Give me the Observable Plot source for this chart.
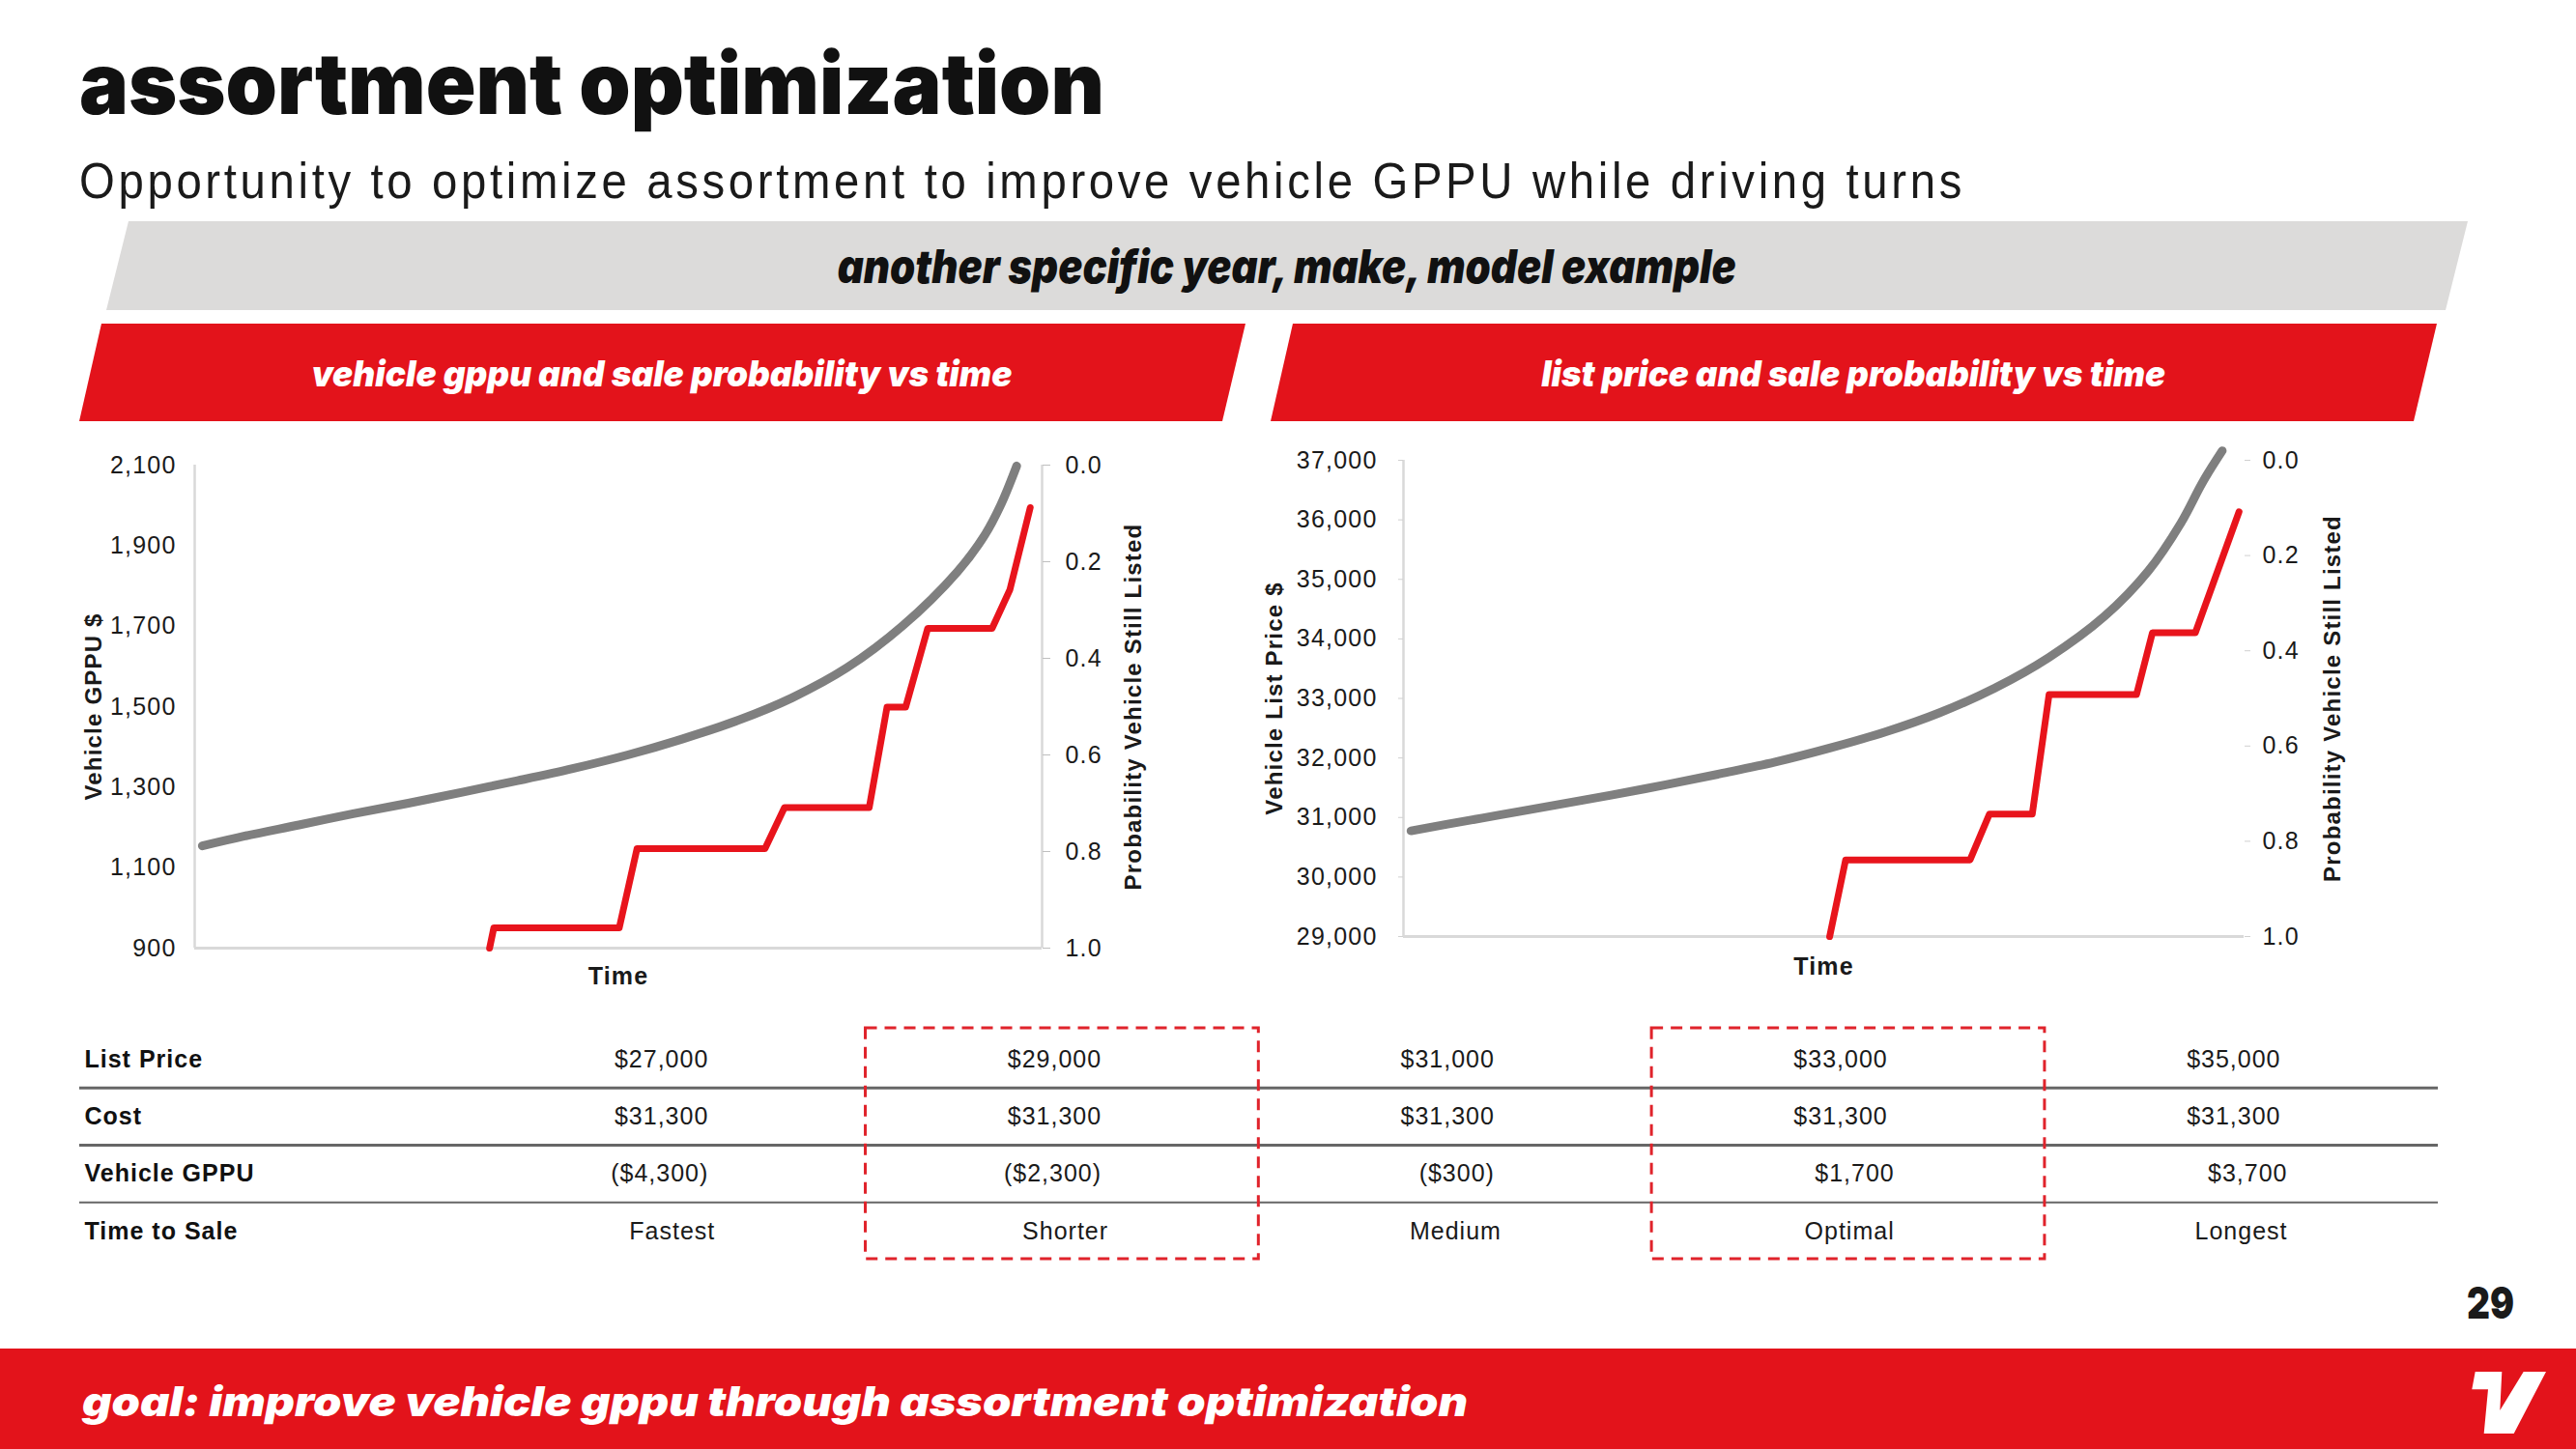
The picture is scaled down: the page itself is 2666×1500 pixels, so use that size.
<!DOCTYPE html>
<html>
<head>
<meta charset="utf-8">
<script src="https://cdn.jsdelivr.net/npm/d3@7"></script>
<script src="https://cdn.jsdelivr.net/npm/@observablehq/plot@0.6"></script>
<style>
html, body { margin: 0; padding: 0; background: #fff; }
#slide { position: relative; width: 2666px; height: 1500px; overflow: hidden; background: #fff; font-family: "Liberation Sans", Arial, sans-serif; }
.t { position: absolute; white-space: nowrap; line-height: 1; }
.heavy { font-family: "Inter", "Open Sans", Roboto, sans-serif; font-weight: 900; }
.ital { font-style: italic; }
.sub { font-family: "Liberation Sans Narrow", "Liberation Sans", Arial, sans-serif; font-weight: 400; }
.shape { position: absolute; }
.chart { position: absolute; }
.chart svg { overflow: visible; background: transparent; }
.chart svg text { letter-spacing: 1.2px; }
.chart g[aria-label="axis-title"] text { letter-spacing: 1.7px; }
.chart g[aria-label="time-title"] text { letter-spacing: 1px; }
#table svg text { letter-spacing: 1px; }
</style>
</head>
<body>
<div id="slide">
  <div class="shape" style="left:110px;top:229px;width:2444px;height:92px;background:#dcdbda;clip-path:polygon(23px 0,2444px 0,2421px 92px,0 92px);"></div>
  <div class="shape" style="left:82px;top:335px;width:1207px;height:101px;background:#e3131b;clip-path:polygon(23px 0,1207px 0,1183px 101px,0 101px);"></div>
  <div class="shape" style="left:1315px;top:335px;width:1207px;height:101px;background:#e3131b;clip-path:polygon(23px 0,1207px 0,1183px 101px,0 101px);"></div>
  <div class="shape" style="left:0;top:1396px;width:2666px;height:104px;background:#e3131b;"></div>
  <svg class="shape" style="left:2550px;top:1410px;" width="100" height="90">
    <polygon points="11.7,10 39.3,10 37.3,50 61.7,10 85,10 51.7,74 20.7,74 25,28.3 8.3,28.3" fill="#fff"/>
  </svg>
  <div id="chart1" class="chart" style="left:60px;top:450px;"></div>
  <div id="chart2" class="chart" style="left:1290px;top:445px;"></div>
  <div id="table" class="chart" style="left:0;top:1050px;"></div>
</div>
<script>
// ---------- data ----------
const gppuTicks = [900, 1100, 1300, 1500, 1700, 1900, 2100];
const priceTicks = [29000, 30000, 31000, 32000, 33000, 34000, 35000, 36000, 37000];
const probTicks = [0, 0.2, 0.4, 0.6, 0.8, 1.0];

// left chart: vehicle GPPU (grey curve) vs time
const gppuTime = [0.9, 5.8, 12.3, 18.7, 25.2, 31.7, 38.1, 44.6, 51.1, 57.6, 64.0, 70.5, 77.0, 83.5, 90.0, 93.2, 95.1, 97.0];
const gppuValue = [1154, 1178, 1206, 1234, 1260, 1288, 1316, 1346, 1380, 1420, 1465, 1522, 1597, 1700, 1835, 1925, 2000, 2098];
// left chart: probability vehicle still listed (red step line)
const gppuStepTime = [34.8, 35.3, 50.1, 52.2, 67.3, 69.6, 79.6, 81.7, 83.9, 86.5, 94.1, 96.2, 98.6];
const gppuStepProb = [1.0, 0.958, 0.958, 0.794, 0.794, 0.709, 0.709, 0.501, 0.501, 0.338, 0.338, 0.258, 0.088];

// right chart: list price (grey curve) vs time
const priceTime = [0.9, 5.1, 11.6, 18.1, 24.7, 31.2, 37.7, 44.2, 50.7, 57.3, 63.8, 70.3, 76.8, 83.4, 88.6, 92.5, 95.1, 97.4];
const priceValue = [30775, 30884, 31046, 31209, 31375, 31550, 31735, 31930, 32165, 32435, 32760, 33170, 33690, 34380, 35140, 35950, 36640, 37160];
// right chart: probability vehicle still listed (red step line)
const priceStepTime = [50.7, 52.6, 67.4, 69.7, 74.8, 76.8, 87.2, 89.1, 94.2, 99.4];
const priceStepProb = [1.0, 0.839, 0.839, 0.743, 0.743, 0.492, 0.492, 0.362, 0.362, 0.108];

// table
const rowLabels = ["List Price", "Cost", "Vehicle GPPU", "Time to Sale"];
const listPrices = [27000, 29000, 31000, 33000, 35000];
const costs = [31300, 31300, 31300, 31300, 31300];
const gppuValues = [-4300, -2300, -300, 1700, 3700];
const timeToSale = ["Fastest", "Shorter", "Medium", "Optimal", "Longest"];
const highlightCols = [2, 4];

// ---------- helpers ----------
const slide = document.getElementById("slide");
function addText(text, o) {
  const div = document.createElement("div");
  div.className = "t " + (o.cls || "");
  div.style.fontSize = o.size + "px";
  if (o.color) div.style.color = o.color;
  if (o.ls != null) div.style.letterSpacing = o.ls + "px";
  const span = document.createElement("span");
  span.textContent = text;
  const bl = document.createElement("span");
  bl.style.cssText = "display:inline-block;width:0;height:0;vertical-align:baseline;";
  div.append(span, bl);
  div.style.left = "0px"; div.style.top = "0px";
  slide.appendChild(div);
  const w = span.getBoundingClientRect().width;
  const off = bl.offsetTop;
  const sx = o.w ? o.w / w : 1;
  const anchor = o.anchor || "start";
  let left = o.x;
  if (anchor === "middle") left = o.x - w / 2;
  else if (anchor === "end") left = o.x - w;
  div.style.left = left + "px";
  div.style.top = (o.baseline - off) + "px";
  div.style.transformOrigin = anchor === "middle" ? "50% 0" : anchor === "end" ? "100% 0" : "0 0";
  div.style.transform = `scaleX(${sx})`;
}
const money = v => (v < 0 ? "($" + d3.format(",")(-v) + ")" : "$" + d3.format(",")(v));

function draw() {
  // ---------- slide texts ----------
  addText("assortment optimization", {cls: "heavy", size: 88, x: 82, baseline: 118, w: 1061, color: "#111"});
  addText("Opportunity to optimize assortment to improve vehicle GPPU while driving turns",
    {cls: "sub", size: 52, ls: 4, x: 82, baseline: 205, w: 1952, color: "#1a1a1a"});
  addText("another specific year, make, model example", {cls: "heavy ital", size: 48, x: 1332, anchor: "middle", baseline: 293, w: 930, color: "#111"});
  addText("vehicle gppu and sale probability vs time", {cls: "heavy ital", size: 37, x: 685, anchor: "middle", baseline: 400, w: 725, color: "#fff"});
  addText("list price and sale probability vs time", {cls: "heavy ital", size: 37, x: 1918, anchor: "middle", baseline: 400, w: 646, color: "#fff"});
  addText("29", {cls: "heavy", size: 46, x: 2553, baseline: 1365, w: 49, color: "#1a1a1a"});
  addText("goal: improve vehicle gppu through assortment optimization", {cls: "heavy ital", size: 42, x: 85, baseline: 1466, w: 1434, color: "#fff"});

  const chartStyle = {fontFamily: "'Liberation Sans', Arial, sans-serif", fontSize: "25px", color: "#1a1a1a", background: "transparent", overflow: "visible"};
  const titleOpts = {text: d => d, rotate: -90, textAnchor: "middle", lineAnchor: "middle", fontWeight: "bold", fontSize: 24, ariaLabel: "axis-title"};
  const timeOpts = {text: d => d, frameAnchor: "bottom", textAnchor: "middle", lineAnchor: "middle", fontWeight: "bold", fontSize: 25, ariaLabel: "time-title"};

  // ---------- left chart ----------
  const p1 = d3.scaleLinear([0, 1], [2100, 900]);
  const gppuSeries = gppuTime.map((t, i) => ({t, v: gppuValue[i]}));
  const gppuStep = gppuStepTime.map((t, i) => ({t, p: gppuStepProb[i]}));
  const chart1 = Plot.plot({
    width: 1160, height: 590,
    marginLeft: 141, marginRight: 142, marginTop: 31, marginBottom: 59,
    style: chartStyle,
    x: {domain: [0, 100], axis: null},
    y: {domain: [900, 2100], label: null},
    marks: [
      Plot.ruleX([0, 100], {stroke: "#d9d9d9", strokeWidth: 2.5}),
      Plot.ruleY([900], {stroke: "#d9d9d9", strokeWidth: 3}),
      Plot.axisY({ticks: gppuTicks, tickSize: 0, tickPadding: 19, tickFormat: d3.format(","), label: null, fill: "#1a1a1a"}),
      Plot.axisY({anchor: "right", ticks: probTicks.map(p1), tickSize: 8, tickPadding: 16,
        tickFormat: d => p1.invert(d).toFixed(1), stroke: "#bfbfbf", fill: "#1a1a1a", label: null}),
      Plot.line(gppuSeries, {x: "t", y: "v", curve: "catmull-rom", stroke: "#7f7f7f", strokeWidth: 9}),
      Plot.line(gppuStep, {x: "t", y: d => p1(d.p), stroke: "#e8141c", strokeWidth: 7}),
      Plot.text(["Vehicle GPPU $"], {...titleOpts, frameAnchor: "left", dx: -104}),
      Plot.text(["Probability Vehicle Still Listed"], {...titleOpts, frameAnchor: "right", dx: 95}),
      Plot.text(["Time"], {...timeOpts, dy: 29})
    ]
  });
  document.getElementById("chart1").appendChild(chart1);

  // ---------- right chart ----------
  const p2 = d3.scaleLinear([0, 1], [37000, 29000]);
  const priceSeries = priceTime.map((t, i) => ({t, v: priceValue[i]}));
  const priceStep = priceStepTime.map((t, i) => ({t, p: priceStepProb[i]}));
  const chart2 = Plot.plot({
    width: 1200, height: 590,
    marginLeft: 162, marginRight: 168, marginTop: 31, marginBottom: 66,
    style: chartStyle,
    x: {domain: [0, 100], axis: null},
    y: {domain: [29000, 37000], label: null},
    marks: [
      Plot.ruleX([0], {stroke: "#d9d9d9", strokeWidth: 2.5}),
      Plot.ruleY([29000], {stroke: "#d9d9d9", strokeWidth: 3}),
      Plot.axisY({ticks: priceTicks, tickSize: 5, tickPadding: 22, tickFormat: d3.format(","), stroke: "#d0d0d0", label: null, fill: "#1a1a1a"}),
      Plot.axisY({anchor: "right", ticks: probTicks.map(p2), tickSize: 6, tickPadding: 13,
        tickFormat: d => p2.invert(d).toFixed(1), stroke: "#d0d0d0", fill: "#1a1a1a", label: null}),
      Plot.line(priceSeries, {x: "t", y: "v", curve: "catmull-rom", stroke: "#7f7f7f", strokeWidth: 9}),
      Plot.line(priceStep, {x: "t", y: d => p2(d.p), stroke: "#e8141c", strokeWidth: 7}),
      Plot.text(["Vehicle List Price $"], {...titleOpts, frameAnchor: "left", dx: -133}),
      Plot.text(["Probability Vehicle Still Listed"], {...titleOpts, frameAnchor: "right", dx: 92}),
      Plot.text(["Time"], {...timeOpts, dy: 31})
    ]
  });
  document.getElementById("chart2").appendChild(chart2);

  // ---------- table ----------
  const cells = [];
  listPrices.forEach((v, i) => cells.push({row: 0, col: i + 1, label: money(v), shift: false}));
  costs.forEach((v, i) => cells.push({row: 1, col: i + 1, label: money(v), shift: false}));
  gppuValues.forEach((v, i) => cells.push({row: 2, col: i + 1, label: money(v), shift: v >= 0}));
  timeToSale.forEach((v, i) => cells.push({row: 3, col: i + 1, label: v, shift: true}));
  const table = Plot.plot({
    width: 2666, height: 270,
    marginLeft: 82, marginRight: 143, marginTop: 0, marginBottom: 0,
    style: {fontFamily: "'Liberation Sans', Arial, sans-serif", fontSize: "25px", color: "#1a1a1a", background: "transparent", overflow: "visible"},
    x: {domain: [0, 5], range: [326, 2360], axis: null},
    y: {domain: [0, 3], range: [46, 224], axis: null},
    marks: [
      Plot.ruleY([0.5, 1.5, 2.5], {stroke: "#666", strokeWidth: d => (d < 2 ? 3 : 2)}),
      Plot.rect(highlightCols, {x1: d => d - 0.6, x2: d => d + 0.4, y1: () => -0.54, y2: () => 3.49,
        fill: "none", stroke: "#e0232b", strokeWidth: 3, strokeDasharray: "12,8"}),
      Plot.text(rowLabels, {y: (d, i) => i, text: d => d, frameAnchor: "left", textAnchor: "start", lineAnchor: "middle", dx: 5, fontWeight: "bold", fill: "#111"}),
      Plot.text(cells, {filter: d => !d.shift, x: "col", y: "row", text: "label", textAnchor: "end", fill: "#1a1a1a"}),
      Plot.text(cells, {filter: d => d.shift, x: "col", y: "row", text: "label", textAnchor: "end", dx: 7, fill: "#1a1a1a"})
    ]
  });
  document.getElementById("table").appendChild(table);
}

(document.fonts && document.fonts.ready ? document.fonts.ready : Promise.resolve()).then(draw);
</script>
</body>
</html>
